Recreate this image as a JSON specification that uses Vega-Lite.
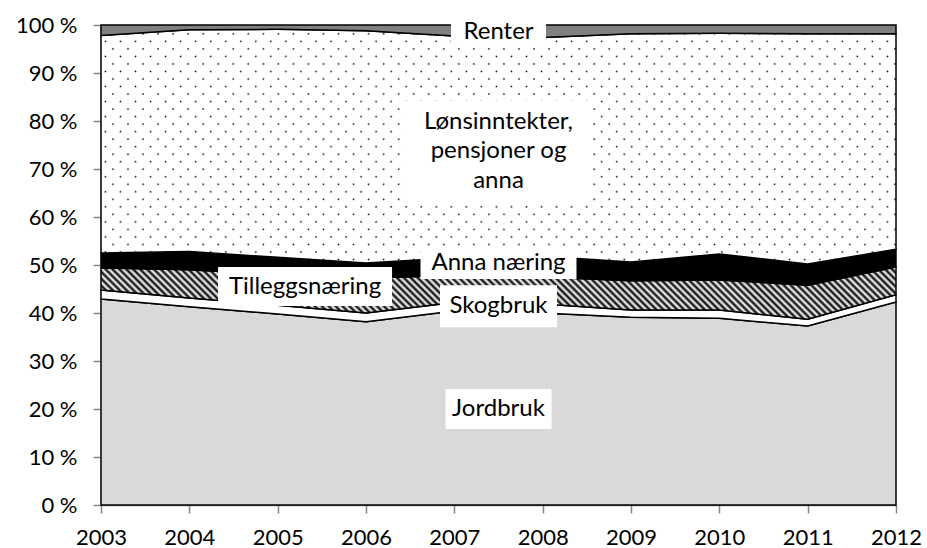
{
  "$schema": "https://vega.github.io/schema/vega-lite/v6.json",
  "width": 795,
  "height": 480,
  "autosize": {"type": "none"},
  "padding": {"left": 101, "top": 25, "right": 31, "bottom": 43},
  "background": "white",
  "config": {
    "view": {"stroke": null},
    "font": "Lato",
    "axis": {
      "domainColor": "#868686",
      "domainWidth": 1.5,
      "tickColor": "#868686",
      "tickWidth": 1.5,
      "tickSize": 8,
      "labelFont": "Lato",
      "labelFontSize": 22,
      "labelColor": "#000000",
      "grid": false,
      "title": null
    }
  },
  "datasets": {
    "shares": [
      {"year": 2003, "series": "Jordbruk", "ord": 1, "value": 42.9},
      {"year": 2003, "series": "Skogbruk", "ord": 2, "value": 1.9},
      {"year": 2003, "series": "Tilleggsnæring", "ord": 3, "value": 4.6},
      {"year": 2003, "series": "Anna næring", "ord": 4, "value": 3.1},
      {"year": 2003, "series": "Lønsinntekter", "ord": 5, "value": 45.3},
      {"year": 2003, "series": "Renter", "ord": 6, "value": 2.2},
      {"year": 2004, "series": "Jordbruk", "ord": 1, "value": 41.3},
      {"year": 2004, "series": "Skogbruk", "ord": 2, "value": 1.8},
      {"year": 2004, "series": "Tilleggsnæring", "ord": 3, "value": 5.9},
      {"year": 2004, "series": "Anna næring", "ord": 4, "value": 3.8},
      {"year": 2004, "series": "Lønsinntekter", "ord": 5, "value": 46.2},
      {"year": 2004, "series": "Renter", "ord": 6, "value": 1.0},
      {"year": 2005, "series": "Jordbruk", "ord": 1, "value": 39.8},
      {"year": 2005, "series": "Skogbruk", "ord": 2, "value": 1.8},
      {"year": 2005, "series": "Tilleggsnæring", "ord": 3, "value": 6.4},
      {"year": 2005, "series": "Anna næring", "ord": 4, "value": 3.6},
      {"year": 2005, "series": "Lønsinntekter", "ord": 5, "value": 47.5},
      {"year": 2005, "series": "Renter", "ord": 6, "value": 0.9},
      {"year": 2006, "series": "Jordbruk", "ord": 1, "value": 38.2},
      {"year": 2006, "series": "Skogbruk", "ord": 2, "value": 1.8},
      {"year": 2006, "series": "Tilleggsnæring", "ord": 3, "value": 7.3},
      {"year": 2006, "series": "Anna næring", "ord": 4, "value": 3.1},
      {"year": 2006, "series": "Lønsinntekter", "ord": 5, "value": 48.4},
      {"year": 2006, "series": "Renter", "ord": 6, "value": 1.2},
      {"year": 2007, "series": "Jordbruk", "ord": 1, "value": 40.4},
      {"year": 2007, "series": "Skogbruk", "ord": 2, "value": 1.8},
      {"year": 2007, "series": "Tilleggsnæring", "ord": 3, "value": 5.6},
      {"year": 2007, "series": "Anna næring", "ord": 4, "value": 3.7},
      {"year": 2007, "series": "Lønsinntekter", "ord": 5, "value": 46.2},
      {"year": 2007, "series": "Renter", "ord": 6, "value": 2.3},
      {"year": 2008, "series": "Jordbruk", "ord": 1, "value": 40.0},
      {"year": 2008, "series": "Skogbruk", "ord": 2, "value": 1.9},
      {"year": 2008, "series": "Tilleggsnæring", "ord": 3, "value": 5.6},
      {"year": 2008, "series": "Anna næring", "ord": 4, "value": 4.3},
      {"year": 2008, "series": "Lønsinntekter", "ord": 5, "value": 45.6},
      {"year": 2008, "series": "Renter", "ord": 6, "value": 2.6},
      {"year": 2009, "series": "Jordbruk", "ord": 1, "value": 39.1},
      {"year": 2009, "series": "Skogbruk", "ord": 2, "value": 1.5},
      {"year": 2009, "series": "Tilleggsnæring", "ord": 3, "value": 6.1},
      {"year": 2009, "series": "Anna næring", "ord": 4, "value": 3.9},
      {"year": 2009, "series": "Lønsinntekter", "ord": 5, "value": 47.6},
      {"year": 2009, "series": "Renter", "ord": 6, "value": 1.8},
      {"year": 2010, "series": "Jordbruk", "ord": 1, "value": 38.9},
      {"year": 2010, "series": "Skogbruk", "ord": 2, "value": 1.7},
      {"year": 2010, "series": "Tilleggsnæring", "ord": 3, "value": 6.3},
      {"year": 2010, "series": "Anna næring", "ord": 4, "value": 5.4},
      {"year": 2010, "series": "Lønsinntekter", "ord": 5, "value": 46.0},
      {"year": 2010, "series": "Renter", "ord": 6, "value": 1.7},
      {"year": 2011, "series": "Jordbruk", "ord": 1, "value": 37.3},
      {"year": 2011, "series": "Skogbruk", "ord": 2, "value": 1.4},
      {"year": 2011, "series": "Tilleggsnæring", "ord": 3, "value": 7.1},
      {"year": 2011, "series": "Anna næring", "ord": 4, "value": 4.4},
      {"year": 2011, "series": "Lønsinntekter", "ord": 5, "value": 48.0},
      {"year": 2011, "series": "Renter", "ord": 6, "value": 1.8},
      {"year": 2012, "series": "Jordbruk", "ord": 1, "value": 42.3},
      {"year": 2012, "series": "Skogbruk", "ord": 2, "value": 1.5},
      {"year": 2012, "series": "Tilleggsnæring", "ord": 3, "value": 5.8},
      {"year": 2012, "series": "Anna næring", "ord": 4, "value": 3.7},
      {"year": 2012, "series": "Lønsinntekter", "ord": 5, "value": 44.9},
      {"year": 2012, "series": "Renter", "ord": 6, "value": 1.8}
    ],
    "labels": [
      {"name": "Renter", "label": "Renter", "year": 2007.5, "pct": 0.985},
      {"name": "Lønsinntekter", "label": "Lønsinntekter,\npensjoner og\nanna", "year": 2007.5, "pct": 0.7375},
      {"name": "Anna næring", "label": "Anna næring", "year": 2007.5, "pct": 0.505},
      {"name": "Tilleggsnæring", "label": "Tilleggsnæring", "year": 2005.31, "pct": 0.455},
      {"name": "Skogbruk", "label": "Skogbruk", "year": 2007.5, "pct": 0.414},
      {"name": "Jordbruk", "label": "Jordbruk", "year": 2007.5, "pct": 0.2}
    ]
  },
  "layer": [
    {
      "data": {"name": "shares"},
      "transform": [
        {"stack": "value", "groupby": ["year"], "sort": [{"field": "ord", "order": "ascending"}], "offset": "normalize", "as": ["y0", "y1"]}
      ],
      "encoding": {
        "x": {
          "field": "year", "type": "quantitative",
          "scale": {"domain": [2003, 2012], "nice": false, "zero": false},
          "axis": {"values": [2003, 2004, 2005, 2006, 2007, 2008, 2009, 2010, 2011, 2012], "format": "d", "labelPadding": 14, "labelFlush": false, "labelOverlap": false, "title": null}
        },
        "y": {
          "field": "y1", "type": "quantitative",
          "scale": {"domain": [0, 1], "nice": false, "zero": true},
          "axis": {"values": [0, 0.1, 0.2, 0.3, 0.4, 0.5, 0.6, 0.7, 0.8, 0.9, 1], "labelExpr": "format(datum.value * 100, 'd') + ' %'", "labelPadding": 16, "labelFlush": false, "title": null}
        },
        "y2": {"field": "y0"}
      },
      "layer": [
        {"transform": [{"filter": "datum.series === 'Jordbruk'"}], "mark": {"type": "area", "fill": "#d9d9d9", "stroke": "#000000", "strokeWidth": 1.5}},
        {"transform": [{"filter": "datum.series === 'Skogbruk'"}], "mark": {"type": "area", "fill": "#ffffff", "stroke": "#000000", "strokeWidth": 1.5}},
        {"transform": [{"filter": "datum.series === 'Tilleggsnæring'"}], "mark": {"type": "area", "stroke": "#000000", "strokeWidth": 1.5,
          "fill": {"gradient": "linear", "x1": -0.04, "y1": 0.5355, "x2": 1.04, "y2": 0.4645, "stops": [
{"offset":0,"color":"#000"},{"offset":0.004,"color":"#fff"},{"offset":0.008,"color":"#000"},{"offset":0.012,"color":"#fff"},{"offset":0.016,"color":"#000"},{"offset":0.02,"color":"#fff"},{"offset":0.024,"color":"#000"},{"offset":0.028,"color":"#fff"},{"offset":0.032,"color":"#000"},{"offset":0.036,"color":"#fff"},
{"offset":0.04,"color":"#000"},{"offset":0.044,"color":"#fff"},{"offset":0.048,"color":"#000"},{"offset":0.052,"color":"#fff"},{"offset":0.056,"color":"#000"},{"offset":0.06,"color":"#fff"},{"offset":0.064,"color":"#000"},{"offset":0.068,"color":"#fff"},{"offset":0.072,"color":"#000"},{"offset":0.076,"color":"#fff"},
{"offset":0.08,"color":"#000"},{"offset":0.084,"color":"#fff"},{"offset":0.088,"color":"#000"},{"offset":0.092,"color":"#fff"},{"offset":0.096,"color":"#000"},{"offset":0.1,"color":"#fff"},{"offset":0.104,"color":"#000"},{"offset":0.108,"color":"#fff"},{"offset":0.112,"color":"#000"},{"offset":0.116,"color":"#fff"},
{"offset":0.12,"color":"#000"},{"offset":0.124,"color":"#fff"},{"offset":0.128,"color":"#000"},{"offset":0.132,"color":"#fff"},{"offset":0.136,"color":"#000"},{"offset":0.14,"color":"#fff"},{"offset":0.144,"color":"#000"},{"offset":0.148,"color":"#fff"},{"offset":0.152,"color":"#000"},{"offset":0.156,"color":"#fff"},
{"offset":0.16,"color":"#000"},{"offset":0.164,"color":"#fff"},{"offset":0.168,"color":"#000"},{"offset":0.172,"color":"#fff"},{"offset":0.176,"color":"#000"},{"offset":0.18,"color":"#fff"},{"offset":0.184,"color":"#000"},{"offset":0.188,"color":"#fff"},{"offset":0.192,"color":"#000"},{"offset":0.196,"color":"#fff"},
{"offset":0.2,"color":"#000"},{"offset":0.204,"color":"#fff"},{"offset":0.208,"color":"#000"},{"offset":0.212,"color":"#fff"},{"offset":0.216,"color":"#000"},{"offset":0.22,"color":"#fff"},{"offset":0.224,"color":"#000"},{"offset":0.228,"color":"#fff"},{"offset":0.232,"color":"#000"},{"offset":0.236,"color":"#fff"},
{"offset":0.24,"color":"#000"},{"offset":0.244,"color":"#fff"},{"offset":0.248,"color":"#000"},{"offset":0.252,"color":"#fff"},{"offset":0.256,"color":"#000"},{"offset":0.26,"color":"#fff"},{"offset":0.264,"color":"#000"},{"offset":0.268,"color":"#fff"},{"offset":0.272,"color":"#000"},{"offset":0.276,"color":"#fff"},
{"offset":0.28,"color":"#000"},{"offset":0.284,"color":"#fff"},{"offset":0.288,"color":"#000"},{"offset":0.292,"color":"#fff"},{"offset":0.296,"color":"#000"},{"offset":0.3,"color":"#fff"},{"offset":0.304,"color":"#000"},{"offset":0.308,"color":"#fff"},{"offset":0.312,"color":"#000"},{"offset":0.316,"color":"#fff"},
{"offset":0.32,"color":"#000"},{"offset":0.324,"color":"#fff"},{"offset":0.328,"color":"#000"},{"offset":0.332,"color":"#fff"},{"offset":0.336,"color":"#000"},{"offset":0.34,"color":"#fff"},{"offset":0.344,"color":"#000"},{"offset":0.348,"color":"#fff"},{"offset":0.352,"color":"#000"},{"offset":0.356,"color":"#fff"},
{"offset":0.36,"color":"#000"},{"offset":0.364,"color":"#fff"},{"offset":0.368,"color":"#000"},{"offset":0.372,"color":"#fff"},{"offset":0.376,"color":"#000"},{"offset":0.38,"color":"#fff"},{"offset":0.384,"color":"#000"},{"offset":0.388,"color":"#fff"},{"offset":0.392,"color":"#000"},{"offset":0.396,"color":"#fff"},
{"offset":0.4,"color":"#000"},{"offset":0.404,"color":"#fff"},{"offset":0.408,"color":"#000"},{"offset":0.412,"color":"#fff"},{"offset":0.416,"color":"#000"},{"offset":0.42,"color":"#fff"},{"offset":0.424,"color":"#000"},{"offset":0.428,"color":"#fff"},{"offset":0.432,"color":"#000"},{"offset":0.436,"color":"#fff"},
{"offset":0.44,"color":"#000"},{"offset":0.444,"color":"#fff"},{"offset":0.448,"color":"#000"},{"offset":0.452,"color":"#fff"},{"offset":0.456,"color":"#000"},{"offset":0.46,"color":"#fff"},{"offset":0.464,"color":"#000"},{"offset":0.468,"color":"#fff"},{"offset":0.472,"color":"#000"},{"offset":0.476,"color":"#fff"},
{"offset":0.48,"color":"#000"},{"offset":0.484,"color":"#fff"},{"offset":0.488,"color":"#000"},{"offset":0.492,"color":"#fff"},{"offset":0.496,"color":"#000"},{"offset":0.5,"color":"#fff"},{"offset":0.504,"color":"#000"},{"offset":0.508,"color":"#fff"},{"offset":0.512,"color":"#000"},{"offset":0.516,"color":"#fff"},
{"offset":0.52,"color":"#000"},{"offset":0.524,"color":"#fff"},{"offset":0.528,"color":"#000"},{"offset":0.532,"color":"#fff"},{"offset":0.536,"color":"#000"},{"offset":0.54,"color":"#fff"},{"offset":0.544,"color":"#000"},{"offset":0.548,"color":"#fff"},{"offset":0.552,"color":"#000"},{"offset":0.556,"color":"#fff"},
{"offset":0.56,"color":"#000"},{"offset":0.564,"color":"#fff"},{"offset":0.568,"color":"#000"},{"offset":0.572,"color":"#fff"},{"offset":0.576,"color":"#000"},{"offset":0.58,"color":"#fff"},{"offset":0.584,"color":"#000"},{"offset":0.588,"color":"#fff"},{"offset":0.592,"color":"#000"},{"offset":0.596,"color":"#fff"},
{"offset":0.6,"color":"#000"},{"offset":0.604,"color":"#fff"},{"offset":0.608,"color":"#000"},{"offset":0.612,"color":"#fff"},{"offset":0.616,"color":"#000"},{"offset":0.62,"color":"#fff"},{"offset":0.624,"color":"#000"},{"offset":0.628,"color":"#fff"},{"offset":0.632,"color":"#000"},{"offset":0.636,"color":"#fff"},
{"offset":0.64,"color":"#000"},{"offset":0.644,"color":"#fff"},{"offset":0.648,"color":"#000"},{"offset":0.652,"color":"#fff"},{"offset":0.656,"color":"#000"},{"offset":0.66,"color":"#fff"},{"offset":0.664,"color":"#000"},{"offset":0.668,"color":"#fff"},{"offset":0.672,"color":"#000"},{"offset":0.676,"color":"#fff"},
{"offset":0.68,"color":"#000"},{"offset":0.684,"color":"#fff"},{"offset":0.688,"color":"#000"},{"offset":0.692,"color":"#fff"},{"offset":0.696,"color":"#000"},{"offset":0.7,"color":"#fff"},{"offset":0.704,"color":"#000"},{"offset":0.708,"color":"#fff"},{"offset":0.712,"color":"#000"},{"offset":0.716,"color":"#fff"},
{"offset":0.72,"color":"#000"},{"offset":0.724,"color":"#fff"},{"offset":0.728,"color":"#000"},{"offset":0.732,"color":"#fff"},{"offset":0.736,"color":"#000"},{"offset":0.74,"color":"#fff"},{"offset":0.744,"color":"#000"},{"offset":0.748,"color":"#fff"},{"offset":0.752,"color":"#000"},{"offset":0.756,"color":"#fff"},
{"offset":0.76,"color":"#000"},{"offset":0.764,"color":"#fff"},{"offset":0.768,"color":"#000"},{"offset":0.772,"color":"#fff"},{"offset":0.776,"color":"#000"},{"offset":0.78,"color":"#fff"},{"offset":0.784,"color":"#000"},{"offset":0.788,"color":"#fff"},{"offset":0.792,"color":"#000"},{"offset":0.796,"color":"#fff"},
{"offset":0.8,"color":"#000"},{"offset":0.804,"color":"#fff"},{"offset":0.808,"color":"#000"},{"offset":0.812,"color":"#fff"},{"offset":0.816,"color":"#000"},{"offset":0.82,"color":"#fff"},{"offset":0.824,"color":"#000"},{"offset":0.828,"color":"#fff"},{"offset":0.832,"color":"#000"},{"offset":0.836,"color":"#fff"},
{"offset":0.84,"color":"#000"},{"offset":0.844,"color":"#fff"},{"offset":0.848,"color":"#000"},{"offset":0.852,"color":"#fff"},{"offset":0.856,"color":"#000"},{"offset":0.86,"color":"#fff"},{"offset":0.864,"color":"#000"},{"offset":0.868,"color":"#fff"},{"offset":0.872,"color":"#000"},{"offset":0.876,"color":"#fff"},
{"offset":0.88,"color":"#000"},{"offset":0.884,"color":"#fff"},{"offset":0.888,"color":"#000"},{"offset":0.892,"color":"#fff"},{"offset":0.896,"color":"#000"},{"offset":0.9,"color":"#fff"},{"offset":0.904,"color":"#000"},{"offset":0.908,"color":"#fff"},{"offset":0.912,"color":"#000"},{"offset":0.916,"color":"#fff"},
{"offset":0.92,"color":"#000"},{"offset":0.924,"color":"#fff"},{"offset":0.928,"color":"#000"},{"offset":0.932,"color":"#fff"},{"offset":0.936,"color":"#000"},{"offset":0.94,"color":"#fff"},{"offset":0.944,"color":"#000"},{"offset":0.948,"color":"#fff"},{"offset":0.952,"color":"#000"},{"offset":0.956,"color":"#fff"},
{"offset":0.96,"color":"#000"},{"offset":0.964,"color":"#fff"},{"offset":0.968,"color":"#000"},{"offset":0.972,"color":"#fff"},{"offset":0.976,"color":"#000"},{"offset":0.98,"color":"#fff"},{"offset":0.984,"color":"#000"},{"offset":0.988,"color":"#fff"},{"offset":0.992,"color":"#000"},{"offset":0.996,"color":"#fff"},
{"offset":1,"color":"#000"}
          ]}}},
        {"transform": [{"filter": "datum.series === 'Anna næring'"}], "mark": {"type": "area", "fill": "#000000", "stroke": "#000000", "strokeWidth": 1.5}},
        {"transform": [{"filter": "datum.series === 'Lønsinntekter'"}], "mark": {"type": "area", "strokeWidth": 0,
          "fill": {"gradient": "linear", "x1": -0.1, "y1": 0.3229, "x2": 1.1, "y2": 0.6771, "stops": [
{"offset":0.003,"color":"#fff"},{"offset":0.005,"color":"#000"},{"offset":0.007,"color":"#fff"},
{"offset":0.0175,"color":"#fff"},{"offset":0.0195,"color":"#000"},{"offset":0.0215,"color":"#fff"},
{"offset":0.032,"color":"#fff"},{"offset":0.034,"color":"#000"},{"offset":0.036,"color":"#fff"},
{"offset":0.0465,"color":"#fff"},{"offset":0.0485,"color":"#000"},{"offset":0.0505,"color":"#fff"},
{"offset":0.061,"color":"#fff"},{"offset":0.063,"color":"#000"},{"offset":0.065,"color":"#fff"},
{"offset":0.0755,"color":"#fff"},{"offset":0.0775,"color":"#000"},{"offset":0.0795,"color":"#fff"},
{"offset":0.09,"color":"#fff"},{"offset":0.092,"color":"#000"},{"offset":0.094,"color":"#fff"},
{"offset":0.1045,"color":"#fff"},{"offset":0.1065,"color":"#000"},{"offset":0.1085,"color":"#fff"},
{"offset":0.119,"color":"#fff"},{"offset":0.121,"color":"#000"},{"offset":0.123,"color":"#fff"},
{"offset":0.1335,"color":"#fff"},{"offset":0.1355,"color":"#000"},{"offset":0.1375,"color":"#fff"},
{"offset":0.148,"color":"#fff"},{"offset":0.15,"color":"#000"},{"offset":0.152,"color":"#fff"},
{"offset":0.1625,"color":"#fff"},{"offset":0.1645,"color":"#000"},{"offset":0.1665,"color":"#fff"},
{"offset":0.177,"color":"#fff"},{"offset":0.179,"color":"#000"},{"offset":0.181,"color":"#fff"},
{"offset":0.1915,"color":"#fff"},{"offset":0.1935,"color":"#000"},{"offset":0.1955,"color":"#fff"},
{"offset":0.206,"color":"#fff"},{"offset":0.208,"color":"#000"},{"offset":0.21,"color":"#fff"},
{"offset":0.2205,"color":"#fff"},{"offset":0.2225,"color":"#000"},{"offset":0.2245,"color":"#fff"},
{"offset":0.235,"color":"#fff"},{"offset":0.237,"color":"#000"},{"offset":0.239,"color":"#fff"},
{"offset":0.2495,"color":"#fff"},{"offset":0.2515,"color":"#000"},{"offset":0.2535,"color":"#fff"},
{"offset":0.264,"color":"#fff"},{"offset":0.266,"color":"#000"},{"offset":0.268,"color":"#fff"},
{"offset":0.2785,"color":"#fff"},{"offset":0.2805,"color":"#000"},{"offset":0.2825,"color":"#fff"},
{"offset":0.293,"color":"#fff"},{"offset":0.295,"color":"#000"},{"offset":0.297,"color":"#fff"},
{"offset":0.3075,"color":"#fff"},{"offset":0.3095,"color":"#000"},{"offset":0.3115,"color":"#fff"},
{"offset":0.322,"color":"#fff"},{"offset":0.324,"color":"#000"},{"offset":0.326,"color":"#fff"},
{"offset":0.3365,"color":"#fff"},{"offset":0.3385,"color":"#000"},{"offset":0.3405,"color":"#fff"},
{"offset":0.351,"color":"#fff"},{"offset":0.353,"color":"#000"},{"offset":0.355,"color":"#fff"},
{"offset":0.3655,"color":"#fff"},{"offset":0.3675,"color":"#000"},{"offset":0.3695,"color":"#fff"},
{"offset":0.38,"color":"#fff"},{"offset":0.382,"color":"#000"},{"offset":0.384,"color":"#fff"},
{"offset":0.3945,"color":"#fff"},{"offset":0.3965,"color":"#000"},{"offset":0.3985,"color":"#fff"},
{"offset":0.409,"color":"#fff"},{"offset":0.411,"color":"#000"},{"offset":0.413,"color":"#fff"},
{"offset":0.4235,"color":"#fff"},{"offset":0.4255,"color":"#000"},{"offset":0.4275,"color":"#fff"},
{"offset":0.438,"color":"#fff"},{"offset":0.44,"color":"#000"},{"offset":0.442,"color":"#fff"},
{"offset":0.4525,"color":"#fff"},{"offset":0.4545,"color":"#000"},{"offset":0.4565,"color":"#fff"},
{"offset":0.467,"color":"#fff"},{"offset":0.469,"color":"#000"},{"offset":0.471,"color":"#fff"},
{"offset":0.4815,"color":"#fff"},{"offset":0.4835,"color":"#000"},{"offset":0.4855,"color":"#fff"},
{"offset":0.496,"color":"#fff"},{"offset":0.498,"color":"#000"},{"offset":0.5,"color":"#fff"},
{"offset":0.5105,"color":"#fff"},{"offset":0.5125,"color":"#000"},{"offset":0.5145,"color":"#fff"},
{"offset":0.525,"color":"#fff"},{"offset":0.527,"color":"#000"},{"offset":0.529,"color":"#fff"},
{"offset":0.5395,"color":"#fff"},{"offset":0.5415,"color":"#000"},{"offset":0.5435,"color":"#fff"},
{"offset":0.554,"color":"#fff"},{"offset":0.556,"color":"#000"},{"offset":0.558,"color":"#fff"},
{"offset":0.5685,"color":"#fff"},{"offset":0.5705,"color":"#000"},{"offset":0.5725,"color":"#fff"},
{"offset":0.583,"color":"#fff"},{"offset":0.585,"color":"#000"},{"offset":0.587,"color":"#fff"},
{"offset":0.5975,"color":"#fff"},{"offset":0.5995,"color":"#000"},{"offset":0.6015,"color":"#fff"},
{"offset":0.612,"color":"#fff"},{"offset":0.614,"color":"#000"},{"offset":0.616,"color":"#fff"},
{"offset":0.6265,"color":"#fff"},{"offset":0.6285,"color":"#000"},{"offset":0.6305,"color":"#fff"},
{"offset":0.641,"color":"#fff"},{"offset":0.643,"color":"#000"},{"offset":0.645,"color":"#fff"},
{"offset":0.6555,"color":"#fff"},{"offset":0.6575,"color":"#000"},{"offset":0.6595,"color":"#fff"},
{"offset":0.67,"color":"#fff"},{"offset":0.672,"color":"#000"},{"offset":0.674,"color":"#fff"},
{"offset":0.6845,"color":"#fff"},{"offset":0.6865,"color":"#000"},{"offset":0.6885,"color":"#fff"},
{"offset":0.699,"color":"#fff"},{"offset":0.701,"color":"#000"},{"offset":0.703,"color":"#fff"},
{"offset":0.7135,"color":"#fff"},{"offset":0.7155,"color":"#000"},{"offset":0.7175,"color":"#fff"},
{"offset":0.728,"color":"#fff"},{"offset":0.73,"color":"#000"},{"offset":0.732,"color":"#fff"},
{"offset":0.7425,"color":"#fff"},{"offset":0.7445,"color":"#000"},{"offset":0.7465,"color":"#fff"},
{"offset":0.757,"color":"#fff"},{"offset":0.759,"color":"#000"},{"offset":0.761,"color":"#fff"},
{"offset":0.7715,"color":"#fff"},{"offset":0.7735,"color":"#000"},{"offset":0.7755,"color":"#fff"},
{"offset":0.786,"color":"#fff"},{"offset":0.788,"color":"#000"},{"offset":0.79,"color":"#fff"},
{"offset":0.8005,"color":"#fff"},{"offset":0.8025,"color":"#000"},{"offset":0.8045,"color":"#fff"},
{"offset":0.815,"color":"#fff"},{"offset":0.817,"color":"#000"},{"offset":0.819,"color":"#fff"},
{"offset":0.8295,"color":"#fff"},{"offset":0.8315,"color":"#000"},{"offset":0.8335,"color":"#fff"},
{"offset":0.844,"color":"#fff"},{"offset":0.846,"color":"#000"},{"offset":0.848,"color":"#fff"},
{"offset":0.8585,"color":"#fff"},{"offset":0.8605,"color":"#000"},{"offset":0.8625,"color":"#fff"},
{"offset":0.873,"color":"#fff"},{"offset":0.875,"color":"#000"},{"offset":0.877,"color":"#fff"},
{"offset":0.8875,"color":"#fff"},{"offset":0.8895,"color":"#000"},{"offset":0.8915,"color":"#fff"},
{"offset":0.902,"color":"#fff"},{"offset":0.904,"color":"#000"},{"offset":0.906,"color":"#fff"},
{"offset":0.9165,"color":"#fff"},{"offset":0.9185,"color":"#000"},{"offset":0.9205,"color":"#fff"},
{"offset":0.931,"color":"#fff"},{"offset":0.933,"color":"#000"},{"offset":0.935,"color":"#fff"},
{"offset":0.9455,"color":"#fff"},{"offset":0.9475,"color":"#000"},{"offset":0.9495,"color":"#fff"},
{"offset":0.96,"color":"#fff"},{"offset":0.962,"color":"#000"},{"offset":0.964,"color":"#fff"},
{"offset":0.9745,"color":"#fff"},{"offset":0.9765,"color":"#000"},{"offset":0.9785,"color":"#fff"},
{"offset":0.989,"color":"#fff"},{"offset":0.991,"color":"#000"},{"offset":0.993,"color":"#fff"}
          ]}}},
        {"transform": [{"filter": "datum.series === 'Lønsinntekter'"}], "mark": {"type": "area", "stroke": "#000000", "strokeWidth": 1.5,
          "fill": {"gradient": "linear", "x1": -0.1, "y1": 0.6771, "x2": 1.1, "y2": 0.3229, "stops": [
{"offset":0.003,"color":"#fff"},{"offset":0.005,"color":"rgba(255,255,255,0)"},{"offset":0.007,"color":"#fff"},
{"offset":0.0175,"color":"#fff"},{"offset":0.0195,"color":"rgba(255,255,255,0)"},{"offset":0.0215,"color":"#fff"},
{"offset":0.032,"color":"#fff"},{"offset":0.034,"color":"rgba(255,255,255,0)"},{"offset":0.036,"color":"#fff"},
{"offset":0.0465,"color":"#fff"},{"offset":0.0485,"color":"rgba(255,255,255,0)"},{"offset":0.0505,"color":"#fff"},
{"offset":0.061,"color":"#fff"},{"offset":0.063,"color":"rgba(255,255,255,0)"},{"offset":0.065,"color":"#fff"},
{"offset":0.0755,"color":"#fff"},{"offset":0.0775,"color":"rgba(255,255,255,0)"},{"offset":0.0795,"color":"#fff"},
{"offset":0.09,"color":"#fff"},{"offset":0.092,"color":"rgba(255,255,255,0)"},{"offset":0.094,"color":"#fff"},
{"offset":0.1045,"color":"#fff"},{"offset":0.1065,"color":"rgba(255,255,255,0)"},{"offset":0.1085,"color":"#fff"},
{"offset":0.119,"color":"#fff"},{"offset":0.121,"color":"rgba(255,255,255,0)"},{"offset":0.123,"color":"#fff"},
{"offset":0.1335,"color":"#fff"},{"offset":0.1355,"color":"rgba(255,255,255,0)"},{"offset":0.1375,"color":"#fff"},
{"offset":0.148,"color":"#fff"},{"offset":0.15,"color":"rgba(255,255,255,0)"},{"offset":0.152,"color":"#fff"},
{"offset":0.1625,"color":"#fff"},{"offset":0.1645,"color":"rgba(255,255,255,0)"},{"offset":0.1665,"color":"#fff"},
{"offset":0.177,"color":"#fff"},{"offset":0.179,"color":"rgba(255,255,255,0)"},{"offset":0.181,"color":"#fff"},
{"offset":0.1915,"color":"#fff"},{"offset":0.1935,"color":"rgba(255,255,255,0)"},{"offset":0.1955,"color":"#fff"},
{"offset":0.206,"color":"#fff"},{"offset":0.208,"color":"rgba(255,255,255,0)"},{"offset":0.21,"color":"#fff"},
{"offset":0.2205,"color":"#fff"},{"offset":0.2225,"color":"rgba(255,255,255,0)"},{"offset":0.2245,"color":"#fff"},
{"offset":0.235,"color":"#fff"},{"offset":0.237,"color":"rgba(255,255,255,0)"},{"offset":0.239,"color":"#fff"},
{"offset":0.2495,"color":"#fff"},{"offset":0.2515,"color":"rgba(255,255,255,0)"},{"offset":0.2535,"color":"#fff"},
{"offset":0.264,"color":"#fff"},{"offset":0.266,"color":"rgba(255,255,255,0)"},{"offset":0.268,"color":"#fff"},
{"offset":0.2785,"color":"#fff"},{"offset":0.2805,"color":"rgba(255,255,255,0)"},{"offset":0.2825,"color":"#fff"},
{"offset":0.293,"color":"#fff"},{"offset":0.295,"color":"rgba(255,255,255,0)"},{"offset":0.297,"color":"#fff"},
{"offset":0.3075,"color":"#fff"},{"offset":0.3095,"color":"rgba(255,255,255,0)"},{"offset":0.3115,"color":"#fff"},
{"offset":0.322,"color":"#fff"},{"offset":0.324,"color":"rgba(255,255,255,0)"},{"offset":0.326,"color":"#fff"},
{"offset":0.3365,"color":"#fff"},{"offset":0.3385,"color":"rgba(255,255,255,0)"},{"offset":0.3405,"color":"#fff"},
{"offset":0.351,"color":"#fff"},{"offset":0.353,"color":"rgba(255,255,255,0)"},{"offset":0.355,"color":"#fff"},
{"offset":0.3655,"color":"#fff"},{"offset":0.3675,"color":"rgba(255,255,255,0)"},{"offset":0.3695,"color":"#fff"},
{"offset":0.38,"color":"#fff"},{"offset":0.382,"color":"rgba(255,255,255,0)"},{"offset":0.384,"color":"#fff"},
{"offset":0.3945,"color":"#fff"},{"offset":0.3965,"color":"rgba(255,255,255,0)"},{"offset":0.3985,"color":"#fff"},
{"offset":0.409,"color":"#fff"},{"offset":0.411,"color":"rgba(255,255,255,0)"},{"offset":0.413,"color":"#fff"},
{"offset":0.4235,"color":"#fff"},{"offset":0.4255,"color":"rgba(255,255,255,0)"},{"offset":0.4275,"color":"#fff"},
{"offset":0.438,"color":"#fff"},{"offset":0.44,"color":"rgba(255,255,255,0)"},{"offset":0.442,"color":"#fff"},
{"offset":0.4525,"color":"#fff"},{"offset":0.4545,"color":"rgba(255,255,255,0)"},{"offset":0.4565,"color":"#fff"},
{"offset":0.467,"color":"#fff"},{"offset":0.469,"color":"rgba(255,255,255,0)"},{"offset":0.471,"color":"#fff"},
{"offset":0.4815,"color":"#fff"},{"offset":0.4835,"color":"rgba(255,255,255,0)"},{"offset":0.4855,"color":"#fff"},
{"offset":0.496,"color":"#fff"},{"offset":0.498,"color":"rgba(255,255,255,0)"},{"offset":0.5,"color":"#fff"},
{"offset":0.5105,"color":"#fff"},{"offset":0.5125,"color":"rgba(255,255,255,0)"},{"offset":0.5145,"color":"#fff"},
{"offset":0.525,"color":"#fff"},{"offset":0.527,"color":"rgba(255,255,255,0)"},{"offset":0.529,"color":"#fff"},
{"offset":0.5395,"color":"#fff"},{"offset":0.5415,"color":"rgba(255,255,255,0)"},{"offset":0.5435,"color":"#fff"},
{"offset":0.554,"color":"#fff"},{"offset":0.556,"color":"rgba(255,255,255,0)"},{"offset":0.558,"color":"#fff"},
{"offset":0.5685,"color":"#fff"},{"offset":0.5705,"color":"rgba(255,255,255,0)"},{"offset":0.5725,"color":"#fff"},
{"offset":0.583,"color":"#fff"},{"offset":0.585,"color":"rgba(255,255,255,0)"},{"offset":0.587,"color":"#fff"},
{"offset":0.5975,"color":"#fff"},{"offset":0.5995,"color":"rgba(255,255,255,0)"},{"offset":0.6015,"color":"#fff"},
{"offset":0.612,"color":"#fff"},{"offset":0.614,"color":"rgba(255,255,255,0)"},{"offset":0.616,"color":"#fff"},
{"offset":0.6265,"color":"#fff"},{"offset":0.6285,"color":"rgba(255,255,255,0)"},{"offset":0.6305,"color":"#fff"},
{"offset":0.641,"color":"#fff"},{"offset":0.643,"color":"rgba(255,255,255,0)"},{"offset":0.645,"color":"#fff"},
{"offset":0.6555,"color":"#fff"},{"offset":0.6575,"color":"rgba(255,255,255,0)"},{"offset":0.6595,"color":"#fff"},
{"offset":0.67,"color":"#fff"},{"offset":0.672,"color":"rgba(255,255,255,0)"},{"offset":0.674,"color":"#fff"},
{"offset":0.6845,"color":"#fff"},{"offset":0.6865,"color":"rgba(255,255,255,0)"},{"offset":0.6885,"color":"#fff"},
{"offset":0.699,"color":"#fff"},{"offset":0.701,"color":"rgba(255,255,255,0)"},{"offset":0.703,"color":"#fff"},
{"offset":0.7135,"color":"#fff"},{"offset":0.7155,"color":"rgba(255,255,255,0)"},{"offset":0.7175,"color":"#fff"},
{"offset":0.728,"color":"#fff"},{"offset":0.73,"color":"rgba(255,255,255,0)"},{"offset":0.732,"color":"#fff"},
{"offset":0.7425,"color":"#fff"},{"offset":0.7445,"color":"rgba(255,255,255,0)"},{"offset":0.7465,"color":"#fff"},
{"offset":0.757,"color":"#fff"},{"offset":0.759,"color":"rgba(255,255,255,0)"},{"offset":0.761,"color":"#fff"},
{"offset":0.7715,"color":"#fff"},{"offset":0.7735,"color":"rgba(255,255,255,0)"},{"offset":0.7755,"color":"#fff"},
{"offset":0.786,"color":"#fff"},{"offset":0.788,"color":"rgba(255,255,255,0)"},{"offset":0.79,"color":"#fff"},
{"offset":0.8005,"color":"#fff"},{"offset":0.8025,"color":"rgba(255,255,255,0)"},{"offset":0.8045,"color":"#fff"},
{"offset":0.815,"color":"#fff"},{"offset":0.817,"color":"rgba(255,255,255,0)"},{"offset":0.819,"color":"#fff"},
{"offset":0.8295,"color":"#fff"},{"offset":0.8315,"color":"rgba(255,255,255,0)"},{"offset":0.8335,"color":"#fff"},
{"offset":0.844,"color":"#fff"},{"offset":0.846,"color":"rgba(255,255,255,0)"},{"offset":0.848,"color":"#fff"},
{"offset":0.8585,"color":"#fff"},{"offset":0.8605,"color":"rgba(255,255,255,0)"},{"offset":0.8625,"color":"#fff"},
{"offset":0.873,"color":"#fff"},{"offset":0.875,"color":"rgba(255,255,255,0)"},{"offset":0.877,"color":"#fff"},
{"offset":0.8875,"color":"#fff"},{"offset":0.8895,"color":"rgba(255,255,255,0)"},{"offset":0.8915,"color":"#fff"},
{"offset":0.902,"color":"#fff"},{"offset":0.904,"color":"rgba(255,255,255,0)"},{"offset":0.906,"color":"#fff"},
{"offset":0.9165,"color":"#fff"},{"offset":0.9185,"color":"rgba(255,255,255,0)"},{"offset":0.9205,"color":"#fff"},
{"offset":0.931,"color":"#fff"},{"offset":0.933,"color":"rgba(255,255,255,0)"},{"offset":0.935,"color":"#fff"},
{"offset":0.9455,"color":"#fff"},{"offset":0.9475,"color":"rgba(255,255,255,0)"},{"offset":0.9495,"color":"#fff"},
{"offset":0.96,"color":"#fff"},{"offset":0.962,"color":"rgba(255,255,255,0)"},{"offset":0.964,"color":"#fff"},
{"offset":0.9745,"color":"#fff"},{"offset":0.9765,"color":"rgba(255,255,255,0)"},{"offset":0.9785,"color":"#fff"},
{"offset":0.989,"color":"#fff"},{"offset":0.991,"color":"rgba(255,255,255,0)"},{"offset":0.993,"color":"#fff"}
          ]}}},
        {"transform": [{"filter": "datum.series === 'Renter'"}], "mark": {"type": "area", "fill": "#808080", "stroke": "#000000", "strokeWidth": 1.5}}
      ]
    },
    {
      "data": {"name": "labels"},
      "encoding": {
        "x": {"field": "year", "type": "quantitative", "axis": {"title": null}},
        "y": {"field": "pct", "type": "quantitative", "axis": {"title": null}}
      },
      "layer": [
        {"transform": [{"filter": "datum.name === 'Renter'"}], "mark": {"type": "rect", "fill": "#ffffff", "width": 95, "height": 28}},
        {"transform": [{"filter": "datum.name === 'Lønsinntekter'"}], "mark": {"type": "rect", "fill": "#ffffff", "width": 188, "height": 100}},
        {"transform": [{"filter": "datum.name === 'Anna næring'"}], "mark": {"type": "rect", "fill": "#ffffff", "width": 156, "height": 33}},
        {"transform": [{"filter": "datum.name === 'Tilleggsnæring'"}], "mark": {"type": "rect", "fill": "#ffffff", "width": 174, "height": 39}},
        {"transform": [{"filter": "datum.name === 'Skogbruk'"}], "mark": {"type": "rect", "fill": "#ffffff", "width": 117, "height": 42}},
        {"transform": [{"filter": "datum.name === 'Jordbruk'"}], "mark": {"type": "rect", "fill": "#ffffff", "width": 106, "height": 40}},
        {
          "transform": [{"filter": "datum.name !== 'Lønsinntekter'"}],
          "mark": {"type": "text", "font": "Lato", "fontSize": 24, "color": "#000000", "align": "center", "baseline": "middle"},
          "encoding": {"text": {"field": "label"}}
        },
        {
          "transform": [{"filter": "datum.name === 'Lønsinntekter'"}],
          "mark": {"type": "text", "font": "Lato", "fontSize": 24, "color": "#000000", "align": "center", "baseline": "middle", "lineBreak": "\n", "lineHeight": 29.5, "dy": -29.5},
          "encoding": {"text": {"field": "label"}}
        }
      ]
    }
  ]
}
